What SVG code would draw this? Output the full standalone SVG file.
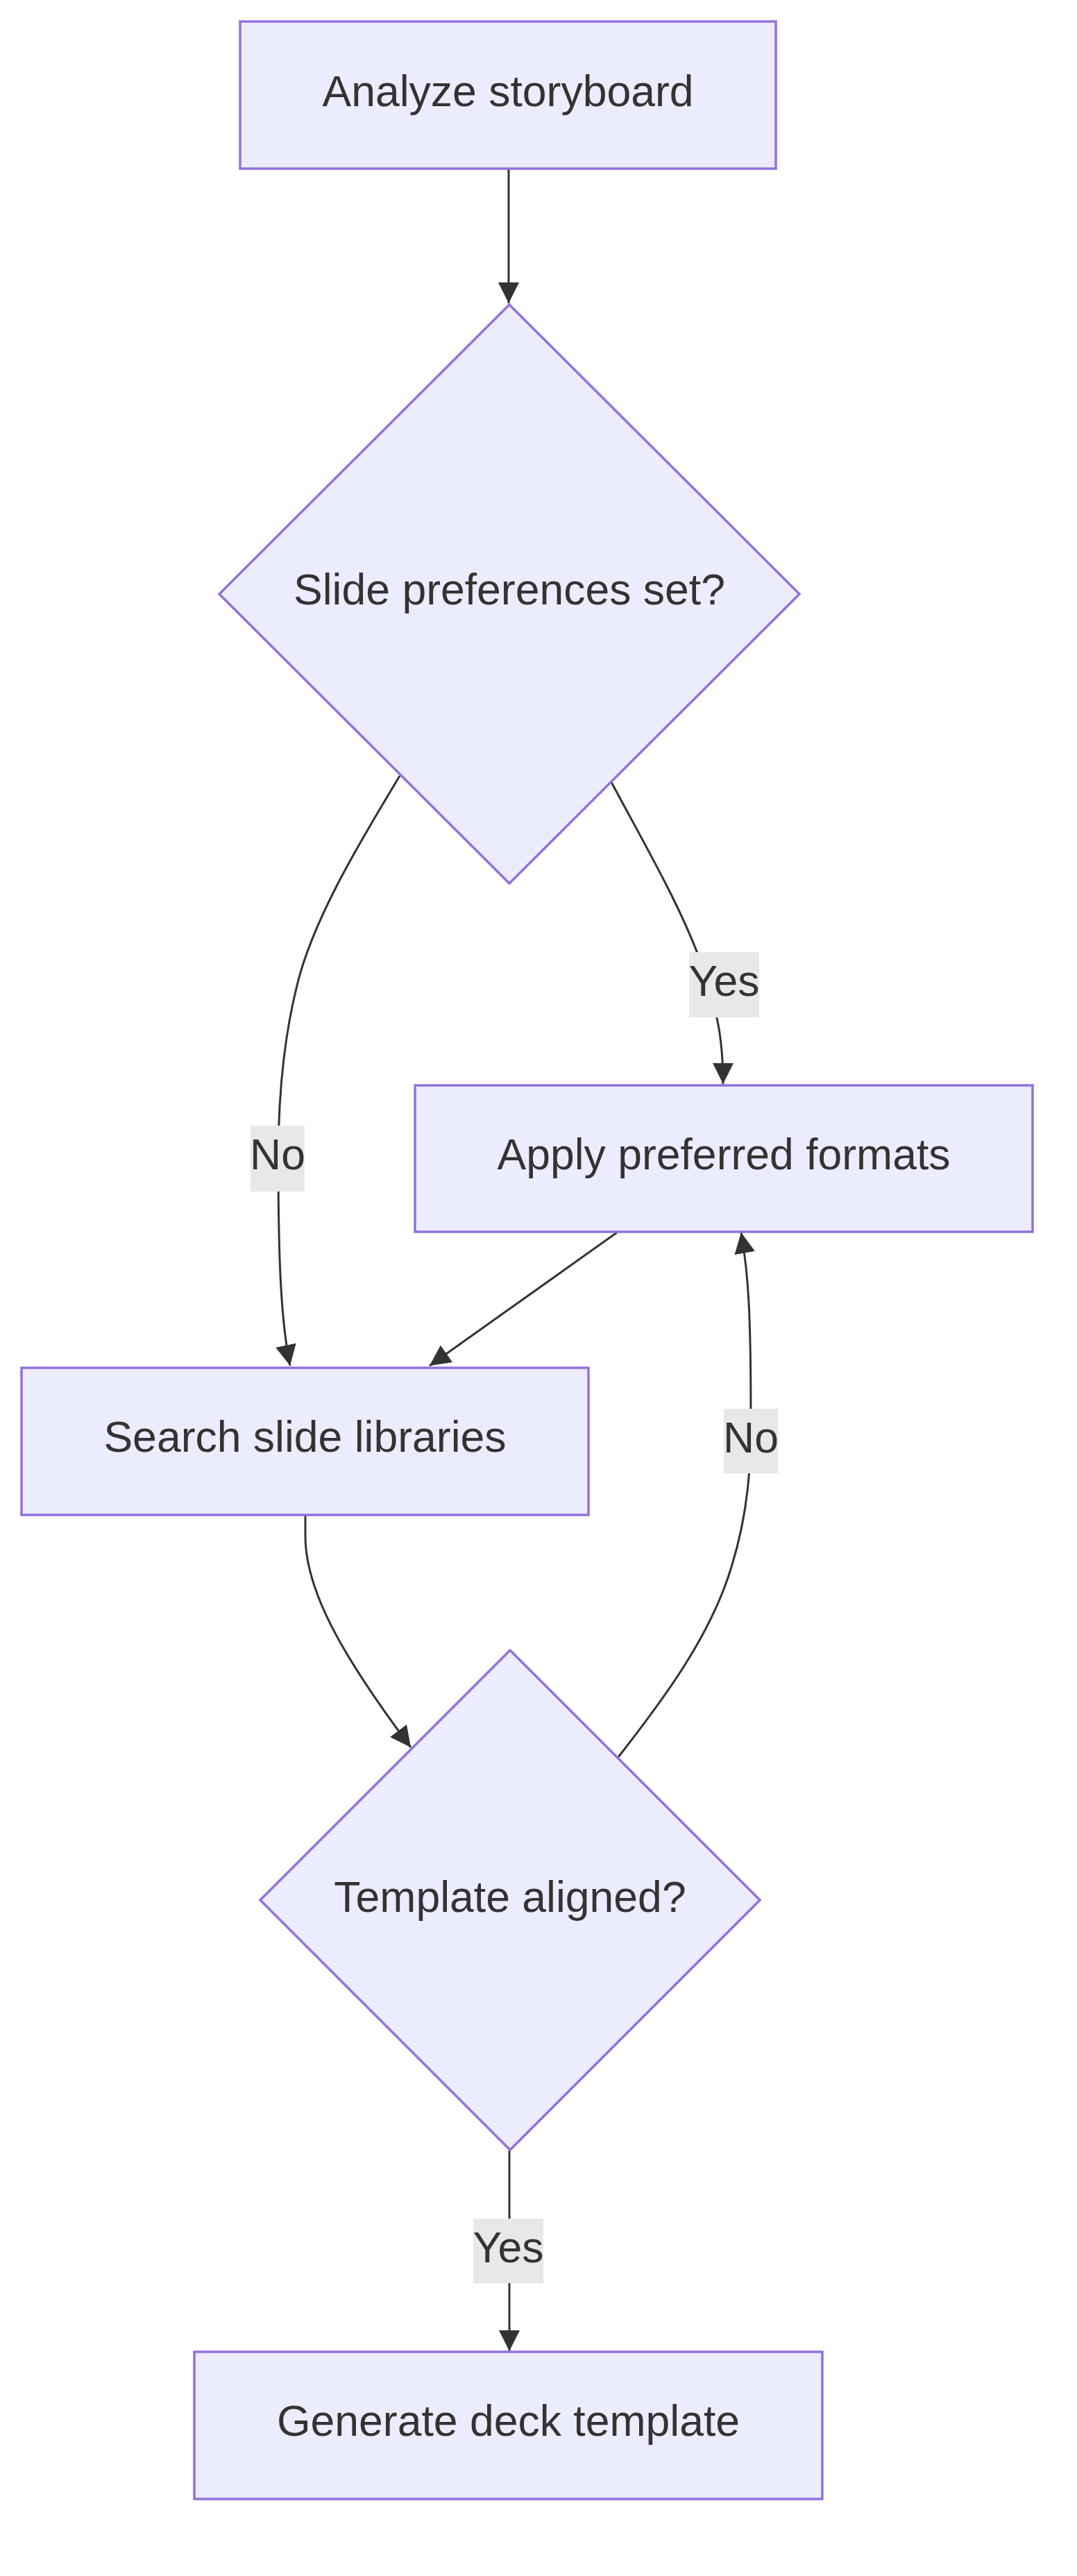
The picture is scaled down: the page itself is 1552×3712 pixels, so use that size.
<svg xmlns="http://www.w3.org/2000/svg" width="1552" height="3712" viewBox="0 0 1552 3712">
<style>
.node{fill:#ECECFF;stroke:#9370DB;stroke-width:3.5}
.edge{fill:none;stroke:#333333;stroke-width:3}
.lbl{fill:#E8E8E8}
text{font-family:"Liberation Sans",Arial,sans-serif;font-size:62.5px;fill:#333333;text-anchor:middle}
</style>
<defs>
<marker id="arr" viewBox="0 0 10 10" refX="10" refY="5" markerUnits="userSpaceOnUse" markerWidth="30" markerHeight="30" orient="auto">
<path d="M0,0 L10,5 L0,10 z" fill="#333333"/>
</marker>
</defs>
<rect width="1552" height="3712" fill="#FFFFFF"/>
<g id="connectors">
<path class="edge" d="M733,243 L733,437" marker-end="url(#arr)"/>
<path class="edge" d="M576,1118 C527,1200 452,1320 428,1420 C408,1500 401,1580 401,1669 C401,1800 404,1900 418,1968" marker-end="url(#arr)"/>
<path class="edge" d="M881,1127 C925,1210 984,1310 1014,1398 C1034,1458 1042,1500 1042,1562" marker-end="url(#arr)"/>
<path class="edge" d="M889,1776 Q755,1872 619,1968" marker-end="url(#arr)"/>
<path class="edge" d="M440,2184 L440,2213 C440,2288 487,2378 592,2518" marker-end="url(#arr)"/>
<path class="edge" d="M891,2532 C955,2450 1024,2358 1054,2258 C1079,2178 1082,2108 1082,2048 C1082,1898 1079,1838 1068,1776" marker-end="url(#arr)"/>
<path class="edge" d="M734,3099 L734,3388" marker-end="url(#arr)"/>
<rect class="lbl" x="993" y="1372" width="101" height="94"/>
<text x="1043.5" y="1435">Yes</text>
<rect class="lbl" x="361" y="1622" width="78" height="95"/>
<text x="400" y="1685">No</text>
<rect class="lbl" x="1043" y="2030" width="78" height="93"/>
<text x="1082" y="2093">No</text>
<rect class="lbl" x="682" y="3197" width="101" height="93"/>
<text x="732.5" y="3260">Yes</text>
</g>
<g id="analyze">
<rect class="node" x="346" y="31" width="772" height="212"/>
<text x="732" y="153">Analyze storyboard</text>
</g>
<g id="prefs">
<polygon class="node" points="734,439 1152,856 734,1273 316,856"/>
<text x="734" y="871">Slide preferences set?</text>
</g>
<g id="apply">
<rect class="node" x="598" y="1564" width="890" height="211"/>
<text x="1043" y="1685">Apply preferred formats</text>
</g>
<g id="search">
<rect class="node" x="31" y="1971" width="817" height="212"/>
<text x="439.5" y="2092">Search slide libraries</text>
</g>
<g id="aligned">
<polygon class="node" points="735,2378 1095,2738 735,3098 375,2738"/>
<text x="735" y="2755">Template aligned?</text>
</g>
<g id="generate">
<rect class="node" x="280" y="3389" width="905" height="212"/>
<text x="732.5" y="3510">Generate deck template</text>
</g>
</svg>
